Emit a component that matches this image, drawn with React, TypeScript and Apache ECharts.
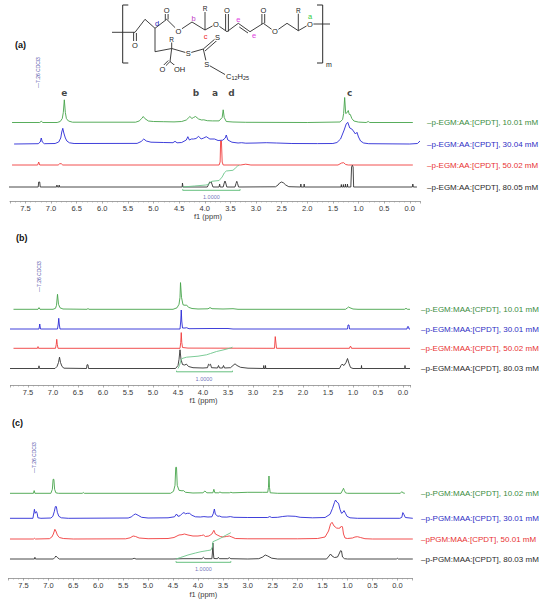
import React, { useEffect, useRef } from "react";
import * as echarts from "echarts";

type Pt = [number, number];

// ---------- Panel (a) spectra: [ppm, height above own baseline] ----------
const aGreen: Pt[] = [
  [7.76, 0], [7.22, 0], [7.19, 1.2], [7.16, 0], [6.88, 0], [6.82, 1], [6.78, 4], [6.76, 10], [6.74, 22.7], [6.72, 10], [6.70, 4], [6.66, 1.5], [6.58, 0.3],
  [5.35, 0.3], [5.28, 1.5], [5.23, 4], [5.20, 6], [5.17, 4], [5.10, 1.5], [5.0, 1], [4.8, 0.8], [4.6, 0.6], [4.45, 1], [4.36, 2.5], [4.31, 5], [4.29, 6], [4.25, 4],
  [4.22, 5], [4.18, 6], [4.12, 3.5], [4.06, 2.5], [4.02, 2.7], [3.95, 1.8], [3.85, 1.6], [3.72, 1.6], [3.66, 5], [3.64, 12.7], [3.62, 5], [3.58, 1], [3.45, 0.5],
  [3.2, 0.2], [2.0, 0], [1.36, 0.5], [1.31, 3], [1.29, 9], [1.27, 25], [1.25, 9], [1.22, 10], [1.20, 12], [1.18, 8], [1.16, 8], [1.13, 4], [1.09, 1.5], [1.0, 0.4],
  [0.85, 0], [0.81, 1], [0.78, 0], [-0.06, 0],
];
const aBlue: Pt[] = [
  [7.72, 0], [7.25, 0.3], [7.21, 2], [7.19, 6], [7.17, 2], [7.13, 0.3], [6.92, 0.5], [6.85, 2], [6.81, 6], [6.79, 12], [6.77, 15.7], [6.75, 11], [6.72, 6],
  [6.69, 3], [6.64, 1.2], [6.55, 0.5], [5.32, 0.6], [5.24, 2.5], [5.19, 5], [5.14, 3], [5.05, 1.8], [4.8, 1.5], [4.62, 1.3], [4.58, 2.7], [4.54, 1.2], [4.45, 1.5],
  [4.36, 4], [4.33, 7.3], [4.30, 4], [4.26, 5], [4.22, 5], [4.17, 5.5], [4.12, 7.7], [4.07, 5], [4.02, 6], [3.97, 7.3], [3.9, 5], [3.81, 5], [3.74, 3.5],
  [3.65, 3.8], [3.60, 6], [3.58, 9], [3.55, 4], [3.47, 1.8], [3.35, 1], [3.28, 1.3], [3.2, 0.8], [3.0, 1], [2.8, 1.3], [2.6, 1], [2.3, 0.5], [1.8, 0.4],
  [1.5, 0.5], [1.42, 1.5], [1.35, 5], [1.28, 14], [1.24, 20], [1.21, 21.7], [1.17, 16], [1.13, 15], [1.10, 13], [1.06, 10], [1.03, 11.7], [1.0, 7],
  [0.96, 3], [0.9, 1], [0.8, 0.3], [0.0, 0], [-0.15, 0.5], [-0.2, 3],
];
const aRed: Pt[] = [
  [7.76, 0], [7.26, 0], [7.24, 3], [7.22, 0], [6.86, 0], [6.83, 1.3], [6.80, 1.3], [6.77, 0], [3.72, 0], [3.70, 3], [3.69, 24], [3.675, 24], [3.66, 3],
  [3.64, 0], [3.3, 0], [3.2, 0.8], [3.1, 0], [1.4, 0], [1.33, 2], [1.29, 2.3], [1.25, 0.5], [1.2, 0], [-0.06, 0],
];
const aBlack: Pt[] = [
  [7.84, 0], [7.25, 0], [7.24, 5], [7.22, 5], [7.21, 0], [6.89, 0], [6.885, 2], [6.875, 0], [6.845, 0], [6.84, 2], [6.835, 0], [4.44, 0], [4.435, 4], [4.425, 0],
  [3.95, 0], [3.92, 3], [3.905, 5], [3.89, 4.5], [3.875, 5], [3.86, 3], [3.84, 0], [3.72, 0], [3.71, 3], [3.70, 0], [3.64, 0], [3.62, 4], [3.605, 6], [3.59, 4],
  [3.57, 0], [3.41, 0], [3.39, 3.5], [3.375, 5.7], [3.36, 3.5], [3.34, 0], [2.62, 0.2], [2.57, 2], [2.54, 4], [2.50, 5], [2.46, 4], [2.42, 2], [2.36, 0.3],
  [2.13, 0], [2.125, 3], [2.12, 0], [2.065, 0], [2.06, 3], [2.055, 0], [1.34, 0], [1.335, 2.5], [1.33, 0], [1.30, 0], [1.295, 2.5], [1.29, 0], [1.26, 0],
  [1.255, 3], [1.25, 0], [1.22, 0], [1.215, 3], [1.21, 0], [1.15, 0], [1.135, 20], [1.12, 21.7], [1.105, 20], [1.095, 0], [-0.05, 0], [-0.06, 3], [-0.07, 0],
  [-0.14, 0],
];
const aIntegral: Pt[] = [
  [4.43, 0], [4.2, 1], [3.98, 2], [3.93, 2.5], [3.89, 5], [3.86, 5.7], [3.72, 6.5], [3.66, 10], [3.62, 14], [3.58, 16], [3.45, 16.7], [3.40, 19], [3.36, 21], [3.33, 21.7],
];
const aIntRange: Pt = [4.43, 3.31];

// ---------- Panel (b) ----------
const bGreen: Pt[] = [
  [7.79, 0], [7.30, 0], [7.28, 1.7], [7.26, 0], [7.0, 0], [6.95, 1], [6.93, 4], [6.91, 15], [6.89, 5], [6.86, 1.5], [6.8, 0.3], [6.32, 0], [6.30, 0.8], [6.28, 0],
  [4.6, 0], [4.52, 1.5], [4.48, 5], [4.46, 12], [4.45, 26.7], [4.43, 12], [4.40, 4.5], [4.36, 4], [4.33, 4.3], [4.29, 2], [4.22, 0.8], [4.1, 0.3], [3.90, 0.5],
  [3.86, 1.7], [3.82, 0.6], [3.6, 0.3], [3.40, 0.6], [3.3, 0], [1.15, 0], [1.11, 1.5], [1.09, 2.3], [1.06, 1.5], [1.0, 0.3], [0.9, 0], [-0.03, 0], [-0.06, 1],
  [-0.09, 0], [-0.14, 0],
];
const bBlue: Pt[] = [
  [7.86, 0], [7.28, 0], [7.265, 5], [7.25, 0], [6.91, 0], [6.895, 5], [6.885, 10.7], [6.875, 5], [6.86, 0], [4.46, 0], [4.445, 8], [4.435, 19], [4.425, 8],
  [4.41, 1], [4.36, 1], [4.33, 1.3], [4.28, 0.3], [3.86, 0.5], [3.5, 0.5], [3.4, 0], [1.11, 0], [1.10, 4], [1.08, 4], [1.07, 0], [-0.08, 0], [-0.09, 2.3],
  [-0.11, 2.3], [-0.12, 0], [-0.14, 0],
];
const bRed: Pt[] = [
  [7.79, 0], [7.31, 0], [7.30, 1.7], [7.29, 0], [6.95, 0], [6.935, 4], [6.925, 9], [6.915, 4], [6.90, 0], [4.46, 0], [4.445, 6], [4.435, 15.7], [4.425, 6],
  [4.41, 0.8], [4.3, 0.2], [2.57, 0], [2.555, 11.7], [2.545, 11.7], [2.53, 0], [1.07, 0], [1.06, 1.7], [1.04, 1.7], [1.03, 0], [-0.14, 0],
];
const bBlack: Pt[] = [
  [7.86, 0], [7.29, 0], [7.28, 2.7], [7.27, 0], [6.96, 0], [6.92, 2], [6.89, 6], [6.87, 11.3], [6.85, 6], [6.82, 2], [6.78, 0.3], [6.33, 0], [6.32, 3.7],
  [6.30, 3.7], [6.29, 0], [4.55, 0], [4.50, 3], [4.48, 9], [4.46, 18.7], [4.44, 9], [4.41, 4], [4.37, 3.5], [4.33, 4.3], [4.29, 2], [4.2, 0.8], [4.0, 0.5],
  [3.91, 0.8], [3.89, 4.3], [3.87, 3.5], [3.85, 4.3], [3.83, 0.8], [3.71, 0.5], [3.69, 3], [3.67, 0.5], [3.61, 0.5], [3.59, 3], [3.57, 0.5], [3.45, 0.8],
  [3.40, 3], [3.36, 4.7], [3.32, 3], [3.25, 1.2], [3.1, 0.3], [2.79, 0], [2.785, 3], [2.78, 0], [2.755, 0], [2.75, 3], [2.745, 0], [1.27, 0], [1.24, 3],
  [1.22, 4.3], [1.18, 3], [1.14, 6], [1.11, 10], [1.08, 5], [1.05, 1], [1.0, 0], [0.835, 0], [0.83, 3], [0.825, 0], [-0.035, 0], [-0.04, 3], [-0.045, 0],
  [-0.14, 0],
];
const bIntegral: Pt[] = [
  [4.50, 0], [4.47, 3], [4.45, 7], [4.42, 10], [4.33, 11.3], [4.1, 12.3], [3.93, 13.7], [3.85, 15], [3.73, 17], [3.6, 18.5], [3.45, 20.5], [3.41, 21.3],
];
const bIntRange: Pt = [4.53, 3.41];

// ---------- Panel (c) ----------
const cGreen: Pt[] = [
  [7.77, 0], [7.30, 0], [7.285, 2.7], [7.27, 0], [6.95, 0], [6.92, 4], [6.905, 14], [6.89, 14], [6.875, 4], [6.85, 0.5], [6.80, 0], [6.32, 0], [6.30, 0.8],
  [6.28, 0], [4.55, 0], [4.49, 2], [4.46, 8], [4.445, 26], [4.43, 26], [4.415, 8], [4.38, 3], [4.32, 2.5], [4.29, 2.7], [4.25, 1], [4.1, 0.3], [3.90, 0.5],
  [3.86, 2.3], [3.82, 0.5], [3.70, 0.5], [3.68, 4], [3.66, 0.5], [3.58, 0.5], [3.56, 1.3], [3.52, 0.5], [3.37, 0.5], [3.34, 1], [3.3, 0.5], [3.0, 1], [2.7, 1],
  [2.6, 1], [2.585, 6], [2.575, 17.3], [2.565, 6], [2.55, 0.5], [2.4, 0], [1.13, 0], [1.09, 4], [1.08, 5], [1.065, 3], [1.04, 0.5], [1.0, 0], [-0.06, 0],
  [-0.09, 1.7], [-0.11, 0.5], [-0.15, 0],
];
const cBlue: Pt[] = [
  [7.77, 0], [7.31, 0], [7.29, 6], [7.28, 9], [7.265, 5], [7.24, 6.7], [7.225, 5], [7.21, 0.5], [7.15, 0], [6.95, 0.3], [6.91, 2], [6.88, 7], [6.86, 11.7],
  [6.84, 11.7], [6.82, 6], [6.79, 2], [6.74, 0.5], [6.6, 0], [5.40, 0.3], [5.33, 1.5], [5.29, 3.5], [5.25, 4.3], [5.20, 3], [5.13, 1], [5.0, 0.3], [4.6, 0.5],
  [4.47, 1.5], [4.43, 4.3], [4.40, 2], [4.36, 2.5], [4.31, 5], [4.28, 5.7], [4.25, 4.5], [4.21, 5], [4.17, 5], [4.12, 3], [4.05, 1.5], [3.95, 1.3],
  [3.88, 1.7], [3.80, 1.3], [3.72, 1.5], [3.69, 5], [3.67, 9.3], [3.65, 4], [3.60, 2], [3.57, 2.3], [3.52, 1.3], [3.42, 1.2], [3.35, 1.7], [3.28, 1],
  [3.0, 0.8], [2.6, 0.8], [2.56, 1.7], [2.52, 0.8], [2.4, 1], [2.3, 1.8], [2.2, 2.3], [2.05, 2], [1.95, 1], [1.7, 0.5], [1.45, 0.8], [1.35, 4], [1.30, 10],
  [1.26, 16], [1.24, 18.3], [1.21, 16], [1.18, 15], [1.15, 9], [1.12, 5], [1.09, 6], [1.07, 7.7], [1.04, 5], [1.01, 2], [0.95, 0.5], [0.8, 0], [-0.05, 0],
  [-0.09, 1], [-0.11, 5.7], [-0.13, 4], [-0.16, 0.8], [-0.31, 0],
];
const cRed: Pt[] = [
  [7.77, 0], [7.30, 0], [7.28, 0.7], [7.26, 0], [6.98, 0.3], [6.93, 2], [6.90, 5], [6.87, 9.7], [6.85, 8], [6.82, 4], [6.78, 1.5], [6.7, 0.5], [6.5, 0],
  [5.45, 0.2], [5.36, 1.2], [5.30, 3], [5.25, 2.5], [5.18, 1], [5.0, 0.3], [4.6, 0.5], [4.48, 1.5], [4.42, 3], [4.38, 4], [4.32, 4.3], [4.27, 5], [4.20, 4],
  [4.10, 3], [4.0, 3], [3.93, 3.5], [3.89, 4], [3.85, 2.5], [3.78, 3], [3.72, 5], [3.68, 8.7], [3.65, 5], [3.60, 3.7], [3.55, 2.5], [3.50, 2], [3.43, 2.5],
  [3.37, 3], [3.32, 2], [3.25, 0.5], [3.0, 0.2], [2.0, 0.2], [1.6, 0.5], [1.45, 2], [1.38, 8], [1.34, 15], [1.31, 16.7], [1.27, 13], [1.22, 11], [1.18, 10.7],
  [1.15, 11], [1.12, 13], [1.10, 12], [1.08, 5], [1.05, 1], [1.0, 0.5], [0.9, 1], [0.85, 2], [0.80, 2.3], [0.74, 1.5], [0.65, 0.3], [0.5, 0], [-0.31, 0],
];
const cBlack: Pt[] = [
  [7.77, 0], [7.28, 0], [7.27, 1.7], [7.26, 0], [6.90, 0], [6.87, 1.5], [6.85, 3], [6.82, 1.5], [6.78, 0], [5.32, 0], [5.28, 0.7], [5.24, 0], [4.5, 0],
  [4.3, 0.3], [3.92, 0.3], [3.89, 1.7], [3.86, 0.3], [3.72, 0.3], [3.71, 6], [3.70, 16], [3.69, 6], [3.68, 0.5], [3.61, 0.3], [3.59, 1.7], [3.57, 0.3],
  [3.40, 0.3], [3.37, 1.3], [3.34, 0.3], [3.0, 0], [2.78, 0.3], [2.70, 2], [2.65, 4], [2.60, 3], [2.52, 0.8], [2.4, 0], [1.42, 0], [1.37, 3], [1.34, 5],
  [1.31, 3], [1.26, 1.5], [1.2, 2], [1.16, 6], [1.14, 8.3], [1.12, 8], [1.10, 2], [1.06, 0.3], [1.0, 0], [0.02, 0], [0.0, 0.7], [-0.02, 0], [-0.31, 0],
];
const cIntegral: Pt[] = [
  [4.44, 0], [4.35, 1.5], [4.2, 4], [4.05, 6], [3.94, 7.3], [3.80, 8.5], [3.74, 9], [3.71, 12], [3.70, 17.3], [3.62, 19], [3.55, 20.7], [3.45, 23.5], [3.34, 26.3],
];
const cIntRange: Pt = [4.44, 3.34];

// ---------- Texts ----------
const aLabels = ["p-EGM:AA:[CPDT], 10.01 mM", "p-EGM:AA:[CPDT], 30.04 mM", "p-EGM:AA:[CPDT], 50.02 mM", "p-EGM:AA:[CPDT], 80.05 mM"];
const bLabels = ["p-EGM:MAA:[CPDT], 10.01 mM", "p-EGM:MAA:[CPDT], 30.01 mM", "p-EGM:MAA:[CPDT], 50.02 mM", "p-EGM:MAA:[CPDT], 80.03 mM"];
const cLabels = ["p-PGM:MAA:[CPDT], 10.02 mM", "p-PGM:MAA:[CPDT], 30.01 mM", "pPGM:MAA:[CPDT], 50.01 mM", "p-PGM:MAA:[CPDT], 80.03 mM"];
const panelTags = ["(a)", "(b)", "(c)"];
const peakLetters = ["e", "b", "a", "d", "c"];
const peakLetterPpm = [6.74, 4.17, 3.80, 3.48, 1.17];
const integralText = "1.0000";
const solventText = "\u20147.26 CDCl3";
const axisName = "f1 (ppm)";

const TRACE_COLORS = ["#45a449", "#2a2ad6", "#f03c3c", "#333333"];
const LABEL_COLORS = ["#3a8c3e", "#2e2ec4", "#e83232", "#2a2a2a"];
const FONT = "'Liberation Sans', Arial, sans-serif";

type Panel = {
  traces: Pt[][];
  integral: Pt[];
  intRange: Pt;
  labels: string[];
  left: number; right: number; top: number; bottom: number;
  min: number; max: number;
  offsets: number[];
  labelX: number;
  intLabelPpm: number;
  tagX: number; tagY: number;
  solventX: number; solventY: number;
};

const panels: Panel[] = [
  {
    traces: [aGreen, aBlue, aRed, aBlack], integral: aIntegral, intRange: aIntRange, labels: aLabels,
    left: 10, right: 420, top: 80, bottom: 201, min: -0.2, max: 7.8, offsets: [78.5, 57, 36, 14], labelX: 427,
    intLabelPpm: 3.87, tagX: 15, tagY: 45, solventX: 38, solventY: 88,
  },
  {
    traces: [bGreen, bBlue, bRed, bBlack], integral: bIntegral, intRange: bIntRange, labels: bLabels,
    left: 10.5, right: 410.5, top: 262, bottom: 385, min: -0.15, max: 7.85, offsets: [75.7, 56, 36.7, 16.5], labelX: 421,
    intLabelPpm: 3.98, tagX: 16, tagY: 238, solventX: 38.5, solventY: 292,
  },
  {
    traces: [cGreen, cBlue, cRed, cBlack], integral: cIntegral, intRange: cIntRange, labels: cLabels,
    left: 8.5, right: 412.3, top: 450, bottom: 578, min: -0.3, max: 7.8, offsets: [84.7, 59.7, 39, 19], labelX: 421,
    intLabelPpm: 3.89, tagX: 12, tagY: 423, solventX: 33.5, solventY: 473,
  },
];

// ---------- Chemical structure (drawing geometry) ----------
const BOND = "#2a2a2a";
function bond(points: number[][], w = 0.9) {
  return { type: "polyline", shape: { points }, style: { stroke: BOND, lineWidth: w, fill: "none" }, silent: true };
}
function atom(text: string, x: number, y: number, color = "#222", size = 7.5, bold = false) {
  return {
    type: "text", x, y, z: 10, silent: true,
    style: { text, fill: color, fontSize: size, fontFamily: FONT, fontWeight: bold ? "bold" : "normal", align: "center", verticalAlign: "middle", backgroundColor: "#fff", padding: [0, 0.5] },
  };
}
function label(text: string, x: number, y: number, color: string, size = 7.5) {
  return {
    type: "text", x, y, z: 11, silent: true,
    style: { text, fill: color, fontSize: size, fontFamily: FONT, align: "center", verticalAlign: "middle" },
  };
}

function structureElements() {
  const els: any[] = [];
  // brackets
  els.push(bond([[128.3, 5], [122.7, 5], [122.7, 63], [128.3, 63]], 1));
  els.push(bond([[317, 5], [322.7, 5], [322.7, 63], [317, 63]], 1));
  // main chain
  els.push(bond([[112, 32.3], [135, 32.3], [145, 19.3], [155, 28.3], [166.7, 19.3], [178.5, 31], [192, 22], [205, 30], [216, 24], [227, 31.7],
    [238.3, 23.3], [250, 31.7], [263.3, 23.3], [275, 31.7], [287, 23.3], [298.3, 30.7], [310, 24], [330, 24]]));
  // C=O bonds
  els.push(bond([[133.6, 32.3], [133.6, 41.5]]), bond([[136.4, 33], [136.4, 41.5]]));
  els.push(bond([[165.3, 13.5], [165.3, 20]]), bond([[168.1, 13.5], [168.1, 19.5]]));
  els.push(bond([[225.6, 13.5], [225.6, 30.8]]), bond([[228.4, 13.5], [228.4, 31.5]]));
  els.push(bond([[261.9, 13.5], [261.9, 24]]), bond([[264.7, 13.5], [264.7, 23.3]]));
  // C=C double bond
  els.push(bond([[239.3, 27], [248, 33]]));
  // R bonds
  els.push(bond([[205, 12], [205, 30]]), bond([[298.3, 13.5], [298.3, 30.7]]));
  // side chain
  els.push(bond([[155, 28.3], [155, 51.7], [171.7, 48.5], [188.3, 53.3], [203.3, 49], [206.7, 64], [225, 74.5]]));
  els.push(bond([[171.7, 42], [171.7, 48.5]]));
  els.push(bond([[171.7, 48.5], [170, 61.5], [178.3, 68.3]]));
  els.push(bond([[170, 61.5], [163.3, 68.3]]), bond([[168.3, 60.5], [161.8, 67]]));
  els.push(bond([[203.3, 49], [216.7, 37.5]]), bond([[205, 51], [218, 39.5]]));
  // atoms
  els.push(atom("O", 135, 45), atom("O", 166.7, 10), atom("O", 178.5, 31), atom("O", 216, 24), atom("O", 227, 10), atom("O", 263.3, 10),
    atom("O", 275, 31.7), atom("O", 310, 24));
  els.push(atom("R", 205, 8.5, "#222", 6.5), atom("R", 298.3, 10, "#222", 6.5), atom("R", 171.7, 39, "#222", 6.5));
  els.push(atom("O", 162.5, 69), atom("OH", 179.5, 69), atom("S", 188.3, 53.3), atom("S", 217.5, 37), atom("S", 206.7, 64.3));
  els.push({
    type: "text", x: 226, y: 76, z: 10, silent: true,
    style: {
      text: "C{s|12}H{s|25}", fill: "#222", fontSize: 7.5, fontFamily: FONT, align: "left", verticalAlign: "middle",
      rich: { s: { fontSize: 5.5, fill: "#222", fontFamily: FONT, padding: [4, 0, 0, 0] } },
    },
  });
  els.push(atom("m", 329, 64, "#222", 7));
  // site labels
  els.push(label("d", 157, 23.5, "#2323b8"), label("b", 193.5, 18, "#c040c8"), label("c", 205.5, 36, "#ee2222"),
    label("e", 238.3, 19.5, "#e040e0"), label("e", 254, 35.5, "#e040e0"), label("a", 310, 16.5, "#33cc44"));
  return els;
}

export default function App() {
  const ref = useRef<HTMLDivElement>(null);
  useEffect(() => {
    document.body.style.margin = "0";
    if (!ref.current) return;
    const chart = echarts.init(ref.current, undefined, { renderer: "svg" });

    const grid: any[] = [];
    const xAxis: any[] = [];
    const yAxis: any[] = [];
    const series: any[] = [];
    const graphic: any[] = structureElements();

    panels.forEach((p, gi) => {
      grid.push({ left: p.left, top: p.top, width: p.right - p.left, height: p.bottom - p.top, containLabel: false });
      xAxis.push({
        type: "value", gridIndex: gi, inverse: true, min: p.min, max: p.max, splitNumber: 16,
        axisLine: { show: true, onZero: false, lineStyle: { color: "#8a8a8a", width: 0.8 } },
        axisTick: { show: true, length: 2.5, inside: false, lineStyle: { color: "#8a8a8a", width: 0.7 } },
        minorTick: { show: true, splitNumber: 5, length: 1.5, lineStyle: { color: "#9a9a9a", width: 0.6 } },
        splitLine: { show: false },
        axisLabel: {
          show: true, margin: 3, fontSize: 7.5, color: "#3a3a3a", fontFamily: FONT, showMinLabel: false, showMaxLabel: false,
          formatter: (v: number) => v.toFixed(1),
        },
        name: axisName, nameLocation: "middle", nameGap: gi === 2 ? 12 : 11,
        nameTextStyle: { fontSize: 7.5, color: "#3a3a3a", fontFamily: FONT, padding: [0, 14, 0, 0] },
      });
      yAxis.push({ type: "value", gridIndex: gi, min: 0, max: p.bottom - p.top, show: false });

      p.traces.forEach((tr, ti) => {
        const off = p.offsets[ti];
        series.push({
          type: "line", xAxisIndex: gi, yAxisIndex: gi, name: p.labels[ti],
          data: tr.map(([x, h]) => [x, h + off]),
          showSymbol: false, symbol: "none", smooth: false, silent: true,
          lineStyle: { color: TRACE_COLORS[ti], width: 0.9 }, z: 3,
        });
        graphic.push({
          type: "text", x: p.labelX, y: p.bottom - off, silent: true,
          style: { text: "\u2013" + p.labels[ti], fill: LABEL_COLORS[ti], fontSize: 8, fontFamily: FONT, align: "left", verticalAlign: "middle" },
        });
      });

      const blackOff = p.offsets[3];
      // integral curve
      series.push({
        type: "line", xAxisIndex: gi, yAxisIndex: gi,
        data: p.integral.map(([x, h]) => [x, h + blackOff]),
        showSymbol: false, symbol: "none", silent: true, lineStyle: { color: "#6cc58a", width: 0.9 }, z: 4,
      });
      // integral bracket
      const [i0, i1] = p.intRange;
      series.push({
        type: "line", xAxisIndex: gi, yAxisIndex: gi,
        data: [[i0, blackOff - 2.2], [i0, blackOff - 3.3], [i1, blackOff - 3.3], [i1, blackOff - 2.2]],
        showSymbol: false, symbol: "none", silent: true, lineStyle: { color: "#55b870", width: 0.9 }, z: 4,
      });
      // integral value
      series.push({
        type: "scatter", xAxisIndex: gi, yAxisIndex: gi, symbolSize: 0, silent: true,
        data: [[p.intLabelPpm, blackOff - 10]],
        label: { show: true, position: "inside", formatter: integralText, fontSize: 5.5, color: "#4a4aa8", fontFamily: FONT },
      });

      // panel tag
      graphic.push({
        type: "text", x: p.tagX, y: p.tagY, silent: true,
        style: { text: panelTags[gi], fill: "#111", fontSize: 9, fontWeight: "bold", fontFamily: FONT, align: "left", verticalAlign: "middle" },
      });
      // solvent marker (vertical)
      graphic.push({
        type: "text", x: p.solventX, y: p.solventY, rotation: Math.PI / 2, silent: true,
        style: { text: solventText, fill: "#5050a8", fontSize: 5, fontFamily: FONT, align: "left", verticalAlign: "middle" },
      });
    });

    // peak assignment letters on panel (a)
    series.push({
      type: "scatter", xAxisIndex: 0, yAxisIndex: 0, symbolSize: 0, silent: true,
      data: peakLetterPpm.map((x, i) => ({ value: [x, panels[0].bottom - 93], name: peakLetters[i] })),
      label: { show: true, position: "inside", formatter: (d: any) => d.name, fontSize: 9, fontWeight: "bold", color: "#111", fontFamily: "'DejaVu Sans', sans-serif" },
    });

    chart.setOption({
      animation: false,
      backgroundColor: "#ffffff",
      textStyle: { fontFamily: FONT },
      grid, xAxis, yAxis, series, graphic,
    });
    return () => chart.dispose();
  }, []);
  return <div ref={ref} style={{ width: 550, height: 601 }} />;
}
